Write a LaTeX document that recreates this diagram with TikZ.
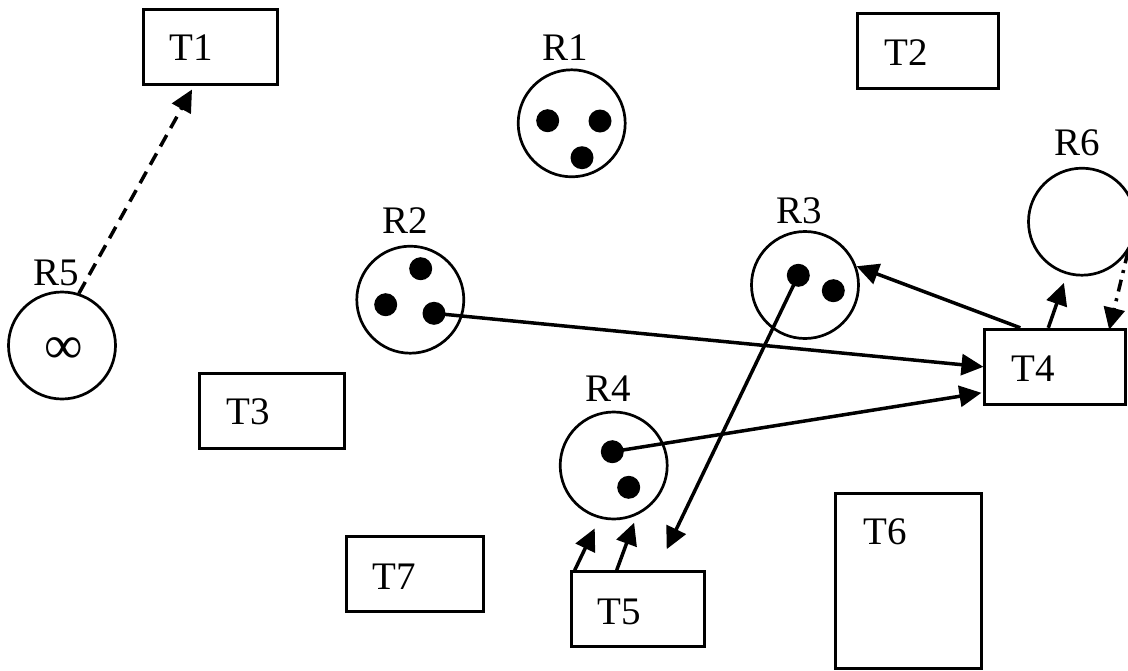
\documentclass[tikz,border=0pt]{standalone}
\usepackage{fontspec}
\setmainfont{Liberation Serif}
\usetikzlibrary{arrows.meta}
\begin{document}
\begin{tikzpicture}[x=1pt,y=-1pt,
  every node/.style={inner sep=0pt},
  lbl/.style={font=\fontsize{39}{46}\selectfont},
  res/.style={draw,circle,line width=2.7pt,minimum size=107pt},
  tok/.style={fill,circle,minimum size=23pt},
  trans/.style={draw,rectangle,line width=3pt},
  arr/.style={line width=3.5pt,-{Triangle[length=22pt,width=21pt]}},
]
\useasboundingbox (0,0) rectangle (1128,670);
% transitions
\node[trans,minimum width=134pt,minimum height=75pt] (t1) at (210,46.5) {};
\node[trans,minimum width=141pt,minimum height=75pt] (t2) at (927.5,50.8) {};
\node[trans,minimum width=145pt,minimum height=75pt] (t3) at (271.7,410.8) {};
\node[trans,minimum width=140.7pt,minimum height=75pt] (t4) at (1055.3,366.8) {};
\node[trans,minimum width=133pt,minimum height=75pt] (t5) at (637.7,609.2) {};
\node[trans,minimum width=145.7pt,minimum height=174.7pt] (t6) at (908.8,580.7) {};
\node[trans,minimum width=137pt,minimum height=75pt] (t7) at (414.7,574.2) {};
\node[lbl] (t1l) at (191.5,48) {T1};
\node[lbl] (t2l) at (906.5,52.5) {T2};
\node[lbl] (t3l) at (248,411.5) {T3};
\node[lbl] (t4l) at (1033,368.5) {T4};
\node[lbl] (t5l) at (619,611.5) {T5};
\node[lbl] (t6l) at (885,532) {T6};
\node[lbl] (t7l) at (394.5,576.5) {T7};
% resources
\node[res] (r1) at (571.7,123.3) {};
\node[res] (r2) at (410.3,299.7) {};
\node[res] (r3) at (805,285) {};
\node[res] (r4) at (613.7,465.5) {};
\node[res] (r5) at (62,345.5) {};
\node[res] (r6) at (1082,221.7) {};
\node[lbl] (r1l) at (565,47.5) {R1};
\node[lbl] (r2l) at (405,220.5) {R2};
\node[lbl] (r3l) at (799,211) {R3};
\node[lbl] (r4l) at (608,389) {R4};
\node[lbl] (r5l) at (56.5,273) {R5};
\node[lbl] (r6l) at (1077,142.5) {R6};
\node[font=\fontsize{54}{60}\selectfont] (inf) at (64,351) {∞};
% tokens
\node[tok] (r1a) at (547.7,120.7) {};
\node[tok] (r1b) at (600,121) {};
\node[tok] (r1c) at (582,157.7) {};
\node[tok] (r2a) at (420.7,268.7) {};
\node[tok] (r2b) at (385.7,304.7) {};
\node[tok] (r2c) at (434,313.3) {};
\node[tok] (r3a) at (798.3,275.3) {};
\node[tok] (r3b) at (833.3,290.7) {};
\node[tok] (r4a) at (612.3,451.7) {};
\node[tok] (r4b) at (628.7,487.3) {};
% arcs
\draw[arr,dash pattern=on 13pt off 8pt] (r5.72) -- ([xshift=-18pt,yshift=-4pt]t1.south);
\draw[arr] (r2c.center) -- (t4.west);
\draw[arr] (r4a.center) -- ([xshift=-2pt,yshift=-26pt]t4.west);
\draw[arr] ([xshift=-35pt]t4.north) -- (r3.20);
\draw[arr,shorten >=9pt] ([xshift=-7pt]t4.north) -- (r6.254);
\draw[arr,dash pattern=on 12pt off 7pt on 3pt off 7pt] (r6.-33) -- ([xshift=-18pt,yshift=-2pt]t4.north east);
\draw[arr] (r3a.center) -- ([xshift=29pt,yshift=21pt]t5.north);
\draw[arr,shorten >=11pt] ([xshift=5pt]t5.north west) -- (r4.255);
\draw[arr,shorten >=8pt] ([xshift=47pt]t5.north west) -- (r4.295);
\end{tikzpicture}
\end{document}
